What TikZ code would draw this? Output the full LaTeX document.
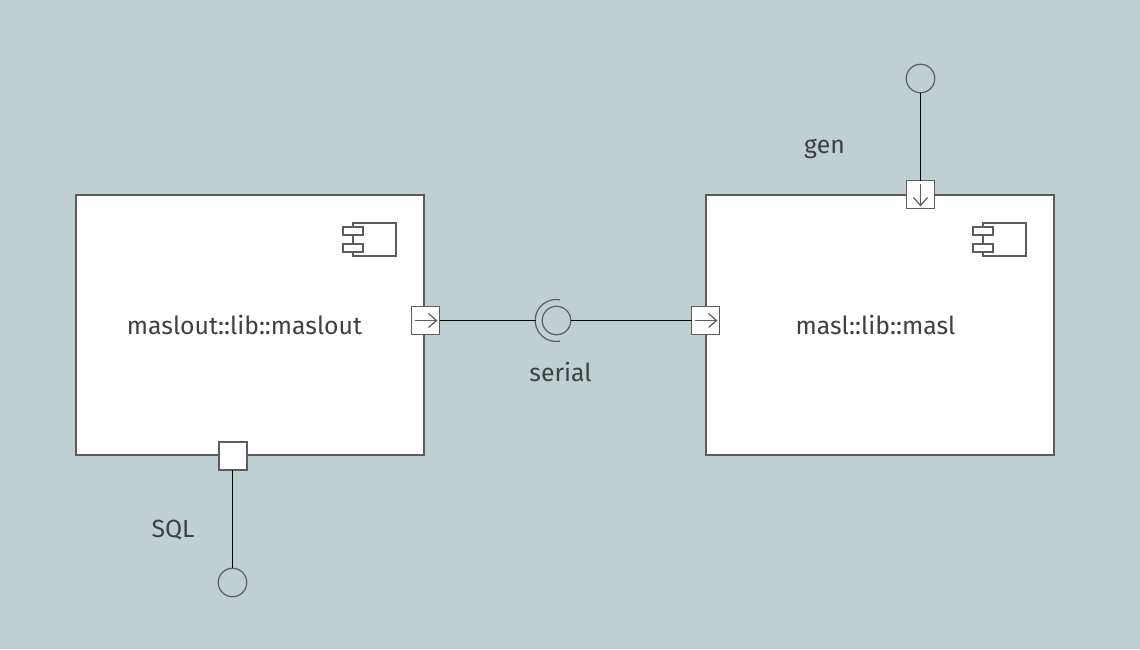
\documentclass[tikz,border=0pt]{standalone}
\usepackage{fontspec}
\setmainfont{Fira Sans}
\definecolor{bgc}{HTML}{BFD0D3}
\definecolor{edgec}{HTML}{5C5C5C}
\definecolor{txtc}{HTML}{404040}
\tikzset{
  x=1pt,y=-1pt,
  comp/.style={draw=edgec,line width=2pt,fill=white,minimum width=348pt,minimum height=260pt,inner sep=0pt,outer sep=0pt},
  port/.style={draw=edgec,line width=1.3pt,fill=white,minimum width=28pt,minimum height=28pt,inner sep=0pt,outer sep=0pt},
  solidport/.style={port,line width=2pt},
  lolli/.style={circle,draw=edgec,line width=1.2pt,minimum size=28.5pt,inner sep=0pt,outer sep=0pt},
  wire/.style={draw=black,line width=1.2pt},
  icon/.style={draw=edgec,line width=2pt},
  glyph/.style={draw=edgec,line width=1.2pt},
  lab/.style={text=txtc,font=\fontsize{24.8}{28}\selectfont,inner sep=0pt,anchor=base},
}
\begin{document}
\begin{tikzpicture}
\useasboundingbox[fill=bgc] (0,0) rectangle (1140,649);
\node[comp] (a) at (249.5,324.5) {};
\node[comp] (b) at (879.5,324.5) {};
\node[lab] (alabel) at (244.5,334.5) {maslout::lib::maslout};
\node[lab] (blabel) at (875.5,334.5) {masl::lib::masl};
% component icons
\foreach \ox in {0,630}{
  \begin{scope}[shift={(\ox,0)}]
    \draw[icon] (353,222.5) rectangle (395.5,255.5);
    \draw[icon,fill=white] (342.5,226.5) rectangle (362.5,234.5);
    \draw[icon,fill=white] (342.5,243.5) rectangle (362.5,251.5);
  \end{scope}
}
% ports
\node[port] (p1) at (425.5,320.5) {};
\node[port] (p2) at (705.5,320.5) {};
\node[port] (p3) at (920.5,194.5) {};
\node[solidport] (p4) at (232.5,456) {};
% lollipops and socket
\node[lolli] (c1) at (920.5,78.5) {};
\node[lolli] (c2) at (232.5,582.5) {};
\node[lolli] (c3) at (556.5,320.5) {};
\coordinate (s1) at (535.5,320.5);
\draw[glyph] (559.8,299.8) arc[start angle=-80,end angle=-280,radius=21];
\draw[wire] (p1.east) -- (s1);
\draw[wire] (c3.east) -- (p2.west);
\draw[wire] (c1.south) -- (p3.north);
\draw[wire] (p4.south) -- (c2.north);
% arrows in ports
\foreach \n in {p1,p2}{
  \draw[glyph] ([xshift=-11pt]\n.center) -- ([xshift=11pt]\n.center);
  \draw[glyph] ([xshift=3pt,yshift=-7pt]\n.center) -- ([xshift=11pt]\n.center) -- ([xshift=3pt,yshift=7pt]\n.center);
}
\draw[glyph] ([yshift=11pt]p3.center) -- ([yshift=-11pt]p3.center);
\draw[glyph] ([xshift=-7pt,yshift=-3pt]p3.center) -- ([yshift=-11pt]p3.center) -- ([xshift=7pt,yshift=-3pt]p3.center);
\node[lab] (l1) at (560.5,381.5) {serial};
\node[lab] (l2) at (824.5,153.5) {gen};
\node[lab] (l3) at (173,537.5) {SQL};
\end{tikzpicture}
\end{document}
